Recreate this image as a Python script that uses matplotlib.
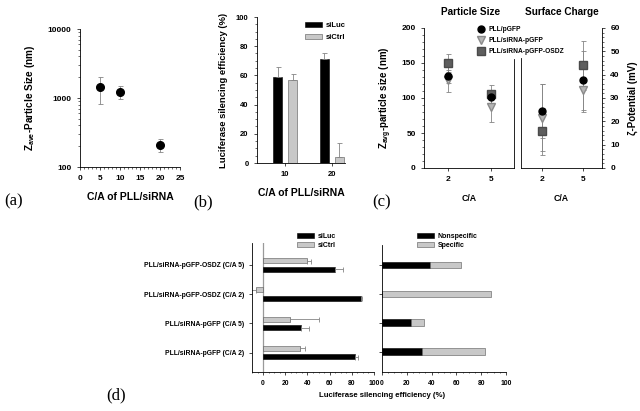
# Four-panel figure: particle size, silencing efficiency, size/zeta, stacked silencing

import numpy as np
import matplotlib
matplotlib.use('Agg')
import matplotlib.pyplot as plt
from matplotlib.ticker import AutoMinorLocator, NullFormatter, LogLocator
from matplotlib.lines import Line2D

plt.rcParams['font.family'] = ['Liberation Sans', 'DejaVu Sans']
plt.rcParams['font.weight'] = 'bold'
plt.rcParams['axes.labelweight'] = 'bold'
plt.rcParams['axes.linewidth'] = 0.6
plt.rcParams['mathtext.fontset'] = 'custom'
plt.rcParams['mathtext.rm'] = 'Liberation Sans:bold'
plt.rcParams['mathtext.it'] = 'Liberation Sans:bold'
plt.rcParams['mathtext.bf'] = 'Liberation Sans:bold'

# (a) particle size vs C/A
ca_a = [5, 10, 20]
size_a = [1430, 1235, 206]
size_a_low = [818, 955, 165]
size_a_high = [2000, 1490, 252]

# (b) silencing efficiency
ca_b = ['10', '20']
siluc_b = [59, 71]
siluc_b_err = [7, 4]
sictrl_b = [57, 4]
sictrl_b_err = [4, 10]

# (c) size and zeta potential
ca_c = ['2', '5']
series_c = ['PLL/pGFP', 'PLL/siRNA-pGFP', 'PLL/siRNA-pGFP-OSDZ']
size_pgfp = [131, 101]
size_pgfp_err = [9, 10]
size_sipgfp = [126, 87]
size_sipgfp_err = [18, 22]
size_osdz = [150, 106]
size_osdz_err = [13, 13]
zeta_pgfp = [24.4, 37.5]
zeta_pgfp_err = [11.5, 12.5]
zeta_sipgfp = [21.5, 33.5]
zeta_sipgfp_err = [14.3, 9.5]
zeta_osdz = [15.7, 44.0]
zeta_osdz_err = [10, 10.5]

# (d) silencing per formulation (bottom to top)
rows_d = ['PLL/siRNA-pGFP (C/A 2)', 'PLL/siRNA-pGFP (C/A 5)',
          'PLL/siRNA-pGFP-OSDZ (C/A 2)', 'PLL/siRNA-pGFP-OSDZ (C/A 5)']
siluc_d = [83, 34.5, 88.5, 64.5]
siluc_d_err = [3, 6.5, 1, 7.5]
sictrl_d = [33, 24, -6.5, 40]
sictrl_d_err = [4.5, 26, 4, 3]
nonspec_d = [32, 23, 0, 39]
spec_d = [51, 11, 88, 25]

W, H = 640, 411
def box(x0, y0, x1, y1):
    return [x0 / W, 1 - y1 / H, (x1 - x0) / W, (y1 - y0) / H]

def fx(x):
    return x / W

def fy(y):
    return 1 - y / H

ecol = '#858585'
gray = '#c8c8c8'
ekw = dict(ecolor=ecol, elinewidth=0.6, capsize=1.8, capthick=0.6)

fig = plt.figure(figsize=(6.4, 4.11), dpi=100)

# ---- (a)
ax = fig.add_axes(box(80, 29, 180, 167))
lo = np.array(size_a) - np.array(size_a_low)
hi = np.array(size_a_high) - np.array(size_a)
ax.errorbar(ca_a, size_a, yerr=[lo, hi], fmt='o', color='black', ms=5.5, **ekw)
ax.set_yscale('log')
ax.set_ylim(100, 10000)
ax.set_xlim(0, 25)
ax.set_xticks([0, 5, 10, 15, 20, 25])
ax.xaxis.set_minor_locator(AutoMinorLocator(5))
ax.set_yticks([100, 1000, 10000])
ax.set_yticklabels(['100', '1000', '10000'])
ax.yaxis.set_minor_locator(LogLocator(subs=np.arange(2, 10)))
ax.yaxis.set_minor_formatter(NullFormatter())
ax.spines[['top', 'right']].set_visible(False)
ax.tick_params(labelsize=6, length=2.5, width=0.5)
ax.tick_params(which='minor', length=1.2, width=0.4)
ax.set_xlabel('C/A of PLL/siRNA', fontsize=7.5, labelpad=7)
ax.set_ylabel(r'Z$_{\mathrm{ave}}$-Particle Size (nm)', fontsize=7.2, labelpad=8)

# ---- (b)
ax = fig.add_axes(box(257, 17, 345, 163))
xb = np.arange(len(ca_b))
ax.bar(xb - 0.16, siluc_b, 0.19, color='black', edgecolor='black', lw=0.4,
       yerr=[np.zeros(2), siluc_b_err], error_kw=ekw, label='siLuc')
ax.bar(xb + 0.16, sictrl_b, 0.19, color=gray, edgecolor='#555555', lw=0.4,
       yerr=[np.zeros(2), sictrl_b_err], error_kw=ekw, label='siCtrl')
ax.set_xlim(-0.6, 1.28)
ax.set_ylim(0, 100)
ax.set_xticks(xb)
ax.set_xticklabels(ca_b)
ax.set_yticks(np.arange(0, 101, 20))
ax.yaxis.set_minor_locator(AutoMinorLocator(4))
ax.spines[['top', 'right']].set_visible(False)
ax.tick_params(labelsize=5.5, length=2.5, width=0.5)
ax.tick_params(which='minor', length=1.2, width=0.4)
ax.set_xlabel('C/A of PLL/siRNA', fontsize=7.5, labelpad=7)
ax.set_ylabel('Luciferase silencing efficiency (%)', fontsize=6.8, labelpad=6)
ax.legend(loc='upper left', bbox_to_anchor=(fx(305), fy(22)), bbox_transform=fig.transFigure,
          frameon=False, fontsize=5.5, handlelength=2.2, handleheight=0.6,
          labelspacing=0.6, borderpad=0, borderaxespad=0, handletextpad=0.5)

# ---- (c) left: particle size
axl = fig.add_axes(box(424, 28, 514, 168))
xc = np.arange(len(ca_c))
axl.errorbar(xc, size_osdz, yerr=size_osdz_err, fmt='s', color='#5e5e5e', mec='#4a4a4a', ms=5.2, **ekw)
axl.errorbar(xc, size_sipgfp, yerr=size_sipgfp_err, fmt='v', color='#b5b5b5', mec='#8a8a8a', ms=5.6, **ekw)
axl.errorbar(xc, size_pgfp, yerr=size_pgfp_err, fmt='o', color='black', ms=5, **ekw)
axl.set_xlim(-0.56, 1.53)
axl.set_ylim(0, 200)
axl.set_xticks(xc)
axl.set_xticklabels(ca_c)
axl.set_yticks(np.arange(0, 201, 50))
axl.yaxis.set_minor_locator(AutoMinorLocator(5))
axl.spines['top'].set_visible(False)
axl.spines['right'].set_bounds(0, 156)
axl.tick_params(labelsize=6, length=2.5, width=0.5)
axl.tick_params(which='minor', length=1.2, width=0.4)
axl.set_xlabel('C/A', fontsize=6.3, labelpad=8)
axl.set_ylabel(r'Z$_{\mathrm{avg}}$-particle size (nm)', fontsize=7, labelpad=5)

# ---- (c) right: surface charge
axr = fig.add_axes(box(521, 28, 602, 168))
axr.errorbar(xc, zeta_osdz, yerr=zeta_osdz_err, fmt='s', color='#5e5e5e', mec='#4a4a4a', ms=5.2, **ekw)
axr.errorbar(xc, zeta_sipgfp, yerr=zeta_sipgfp_err, fmt='v', color='#b5b5b5', mec='#8a8a8a', ms=5.6, **ekw)
axr.errorbar(xc, zeta_pgfp, yerr=zeta_pgfp_err, fmt='o', color='black', ms=5, **ekw)
axr.set_xlim(-0.51, 1.46)
axr.set_ylim(0, 60)
axr.set_xticks(xc)
axr.set_xticklabels(ca_c)
axr.set_yticks(np.arange(0, 61, 10))
axr.yaxis.set_minor_locator(AutoMinorLocator(5))
axr.yaxis.tick_right()
axr.yaxis.set_label_position('right')
axr.spines['top'].set_visible(False)
axr.spines['left'].set_bounds(0, 47)
axr.tick_params(labelsize=6, length=2.5, width=0.5)
axr.tick_params(which='minor', length=1.2, width=0.4)
axr.set_xlabel('C/A', fontsize=6.3, labelpad=8)
axr.set_ylabel('\u03b6-Potential (mV)', fontsize=7, labelpad=6)

fig.text(fx(471), fy(12), 'Particle Size', fontsize=7.2, ha='center', va='center')
fig.text(fx(562), fy(12), 'Surface Charge', fontsize=7.2, ha='center', va='center')

handles_c = [
    Line2D([], [], ls='none', marker='o', color='black', ms=5),
    Line2D([], [], ls='none', marker='v', color='#b5b5b5', mec='#8a8a8a', ms=5.6),
    Line2D([], [], ls='none', marker='s', color='#5e5e5e', mec='#4a4a4a', ms=5.2),
]
fig.legend(handles_c, series_c, loc='upper left', bbox_to_anchor=(fx(478), fy(26)),
           frameon=False, fontsize=4.8, handlelength=1.0, handletextpad=0.6,
           labelspacing=0.6, borderpad=0, borderaxespad=0)

# ---- (d) left: siLuc / siCtrl
axd = fig.add_axes(box(252, 243, 374, 372))
yd = np.arange(len(rows_d))
v = np.array(sictrl_d)
e = np.array(sictrl_d_err)
ctrl_err = [np.where(v < 0, e, 0), np.where(v < 0, 0, e)]
axd.axvline(0, color='#9a9a9a', lw=0.9, zorder=0)
axd.barh(yd - 0.145, siluc_d, 0.17, color='black', edgecolor='black', lw=0.4,
         xerr=[np.zeros(4), siluc_d_err], error_kw=ekw, label='siLuc')
axd.barh(yd + 0.145, sictrl_d, 0.17, color=gray, edgecolor='#555555', lw=0.4,
         xerr=ctrl_err, error_kw=ekw, label='siCtrl')
axd.set_xlim(-10, 100)
axd.set_ylim(-0.66, 3.75)
axd.set_xticks(np.arange(0, 101, 20))
axd.xaxis.set_minor_locator(AutoMinorLocator(4))
axd.set_yticks(yd)
axd.set_yticklabels(rows_d)
axd.spines[['top', 'right']].set_visible(False)
axd.tick_params(labelsize=4.9, length=2, width=0.5)
axd.tick_params(which='minor', length=1, width=0.4)
axd.legend(loc='upper left', bbox_to_anchor=(fx(297), fy(233)), bbox_transform=fig.transFigure,
           frameon=False, fontsize=5, handlelength=2.5, handleheight=0.6,
           labelspacing=0.3, borderpad=0, borderaxespad=0, handletextpad=0.5)

# ---- (d) right: nonspecific / specific stacked
axs = fig.add_axes(box(382, 245, 506, 372))
axs.barh(yd, nonspec_d, 0.23, color='black', edgecolor='black', lw=0.4, label='Nonspecific')
axs.barh(yd, spec_d, 0.23, left=nonspec_d, color=gray, edgecolor='#555555', lw=0.4, label='Specific')
axs.set_xlim(0, 100)
axs.set_ylim(-0.70, 3.69)
axs.set_xticks(np.arange(0, 101, 20))
axs.xaxis.set_minor_locator(AutoMinorLocator(4))
axs.set_yticks(yd)
axs.set_yticklabels([])
axs.spines[['top', 'right']].set_visible(False)
axs.tick_params(labelsize=4.9, length=2, width=0.5)
axs.tick_params(which='minor', length=1, width=0.4)
axs.legend(loc='upper left', bbox_to_anchor=(fx(417), fy(233)), bbox_transform=fig.transFigure,
           frameon=False, fontsize=5, handlelength=2.5, handleheight=0.6,
           labelspacing=0.3, borderpad=0, borderaxespad=0, handletextpad=0.5)

fig.text(fx(382), fy(395), 'Luciferase silencing efficiency (%)', fontsize=5.6,
         ha='center', va='center')

# panel letters
for lab, px, py in [('(a)', 14, 201), ('(b)', 203, 202), ('(c)', 382, 202), ('(d)', 116, 395)]:
    fig.text(fx(px), fy(py), lab, fontsize=12, family='Liberation Serif',
             weight='normal', ha='center', va='center')

fig.savefig('out.png', dpi=100)
